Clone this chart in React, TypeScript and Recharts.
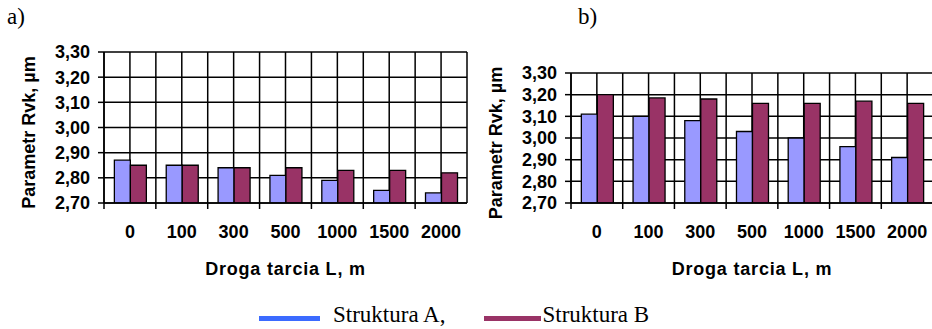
import React from 'react';
import { BarChart, Bar, XAxis, YAxis, CartesianGrid } from 'recharts';

const distances = ['0', '100', '300', '500', '1000', '1500', '2000'];
const panelA_structA = [2.87, 2.85, 2.84, 2.81, 2.79, 2.75, 2.74];
const panelA_structB = [2.85, 2.85, 2.84, 2.84, 2.83, 2.83, 2.82];
const panelB_structA = [3.11, 3.1, 3.08, 3.03, 3.0, 2.96, 2.91];
const panelB_structB = [3.2, 3.185, 3.18, 3.16, 3.16, 3.17, 3.16];
const yTicks = [2.7, 2.8, 2.9, 3.0, 3.1, 3.2, 3.3];
const seriesNames = ['Struktura A,', 'Struktura B'];
const barColors = ['#9999FF', '#993366'];
const legendColors = ['#3B6BFF', '#993366'];

const SANS = '"Liberation Sans", Arial, sans-serif';
const SERIF = '"Liberation Serif", "Times New Roman", serif';

const W = 470;
const H = 290;
const YW = 104;
const XH = 87;

const fmt = (v: number) => v.toFixed(2).replace('.', ',');

const XTick = (props: any) => {
  const { x, y, payload, half } = props;
  return (
    <g>
      <line x1={x - half} x2={x - half} y1={y - 8} y2={y - 2} stroke="#000" strokeWidth={1.5} />
      <text x={x} y={y + 27} textAnchor="middle" fill="#000" fontSize={18} fontWeight="bold" fontFamily={SANS}>
        {payload.value}
      </text>
    </g>
  );
};

function Panel({ left, top, right, a, b }: { left: number; top: number; right: number; a: number[]; b: number[] }) {
  const data = distances.map((d, i) => ({ d, A: a[i], B: b[i] }));
  const plotW = W - YW - right;
  const half = plotW / distances.length / 2;
  return (
    <div style={{ position: 'absolute', left, top: 0, width: W, height: H }}>
      <BarChart width={W} height={H} data={data} margin={{ top, right, left: 0, bottom: 0 }} barCategoryGap="20%" barGap={0}>
        <CartesianGrid
          stroke="#000"
          strokeWidth={1.5}
          verticalCoordinatesGenerator={({ offset }: any) =>
            Array.from({ length: distances.length * 2 + 1 }, (_, i) => offset.left + (i * offset.width) / (distances.length * 2))
          }
        />
        <XAxis
          dataKey="d"
          height={XH}
          stroke="#000"
          strokeWidth={1.5}
          tickLine={false}
          tickSize={6}
          tickMargin={2}
          interval={0}
          tick={(p: any) => <XTick {...p} half={half} />}
          label={({ viewBox }: any) => (
            <text
              x={viewBox.x + viewBox.width / 2}
              y={viewBox.y + 72}
              textAnchor="middle"
              fill="#000"
              fontSize={18}
              fontWeight="bold"
              letterSpacing={0.8}
              fontFamily={SANS}
            >
              Droga tarcia L, m
            </text>
          )}
        />
        <YAxis
          width={YW}
          domain={[2.7, 3.3]}
          ticks={yTicks}
          interval={0}
          allowDataOverflow
          stroke="#000"
          strokeWidth={1.5}
          tickSize={6}
          tickMargin={8}
          tickFormatter={fmt}
          tick={{ fill: '#000', fontSize: 18, fontWeight: 'bold', fontFamily: SANS }}
          label={({ viewBox }: any) => {
            const cx = viewBox.x + 29;
            const cy = viewBox.y + viewBox.height / 2 + 5;
            return (
              <text
                x={cx}
                y={cy}
                transform={`rotate(-90 ${cx} ${cy})`}
                textAnchor="middle"
                dominantBaseline="central"
                fill="#000"
                fontSize={18}
                fontWeight="bold"
                fontFamily={SANS}
              >
                Parametr Rvk, µm
              </text>
            );
          }}
        />
        <Bar dataKey="A" name={seriesNames[0]} fill={barColors[0]} stroke="#000" strokeWidth={1.3} isAnimationActive={false} />
        <Bar dataKey="B" name={seriesNames[1]} fill={barColors[1]} stroke="#000" strokeWidth={1.3} isAnimationActive={false} />
      </BarChart>
    </div>
  );
}

export default function App() {
  return (
    <div style={{ position: 'fixed', left: 0, top: 0, width: 932, height: 329, overflow: 'hidden', background: '#fff' }}>
      <div style={{ position: 'absolute', left: 7, top: 4, fontFamily: SERIF, fontSize: 23, color: '#000' }}>a)</div>
      <div style={{ position: 'absolute', left: 578, top: 4, fontFamily: SERIF, fontSize: 23, color: '#000' }}>b)</div>
      <Panel left={0} top={52} right={3} a={panelA_structA} b={panelA_structB} />
      <Panel left={467} top={73} right={4} a={panelB_structA} b={panelB_structB} />
      <div style={{ position: 'absolute', left: 259, top: 302, height: 26, display: 'flex', alignItems: 'center', fontFamily: SERIF, fontSize: 23, color: '#000' }}>
        {seriesNames.map((n, i) => (
          <div key={n} style={{ display: 'flex', alignItems: 'center', height: 26, marginLeft: i === 0 ? 0 : 39 }}>
            <div style={{ width: i === 0 ? 61 : 57, height: 5, background: legendColors[i], marginRight: i === 0 ? 13 : 1, marginTop: 6 }} />
            <span style={{ lineHeight: '26px' }}>{n}</span>
          </div>
        ))}
      </div>
    </div>
  );
}
